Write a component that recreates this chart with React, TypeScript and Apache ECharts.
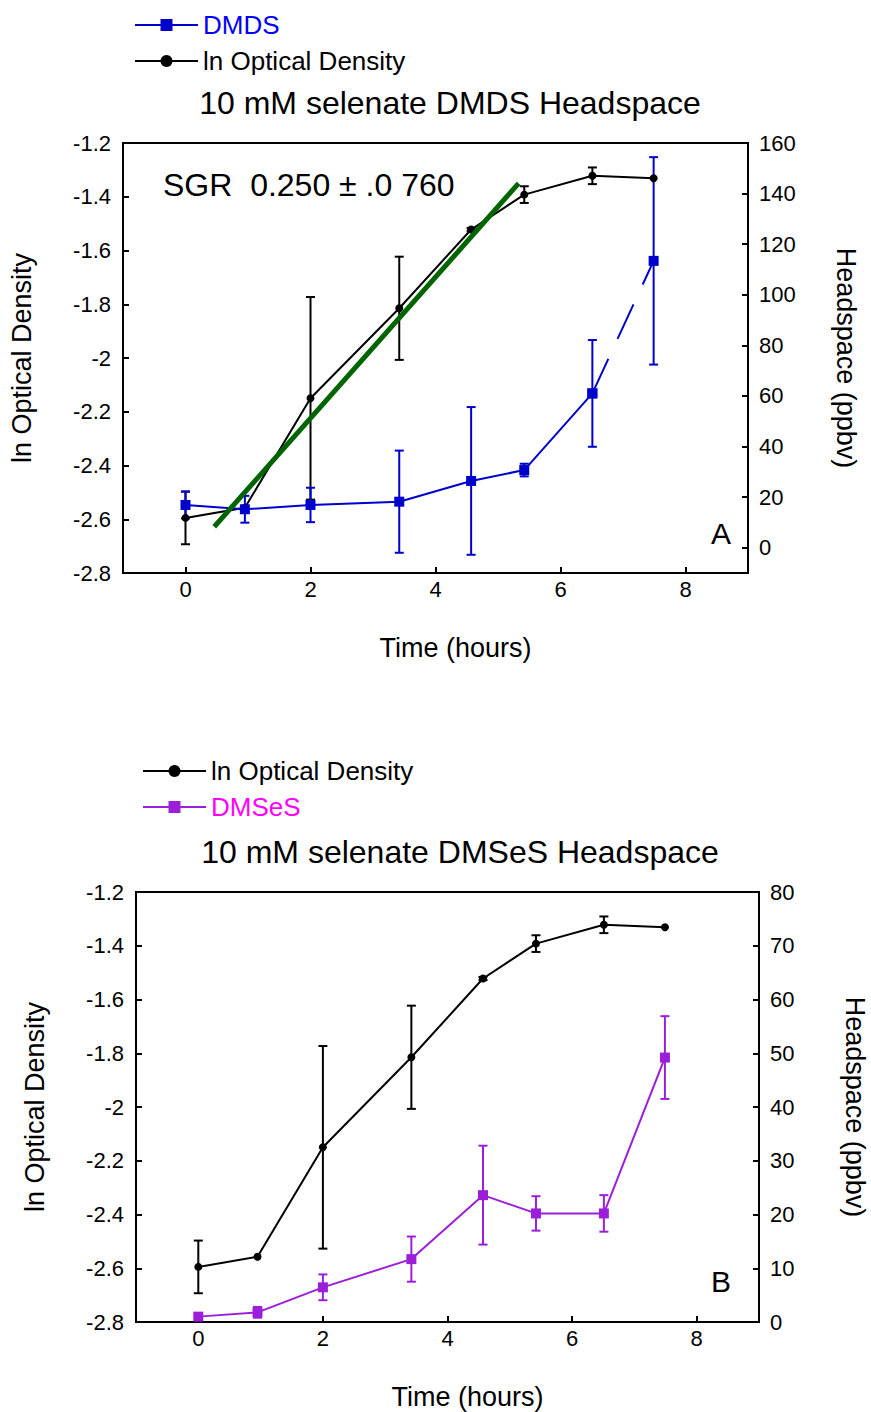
import React, { useEffect, useRef } from "react";
import * as echarts from "echarts";

// ---- data ----
const timeHours = [0, 0.95, 2, 3.42, 4.57, 5.42, 6.51, 7.49];
const lnOD = [-2.595, -2.557, -2.15, -1.815, -1.522, -1.392, -1.322, -1.331];
const lnODErr = [0.098, 0, 0.377, 0.192, 0.006, 0.031, 0.031, 0];
const dmds = [16.9, 15.2, 16.9, 18.2, 26.4, 30.7, 61, 113.4];
const dmdsErr = [5.3, 5.3, 6.8, 20.2, 29.2, 2.5, 21.1, 41];
const dmses = [1.0, 1.8, 6.45, 11.7, 23.6, 20.2, 20.2, 49.2];
const dmsesErr = [0, 1.0, 2.4, 4.2, 9.2, 3.2, 3.4, 7.7];
const sgrFitX = [0.46, 5.33];
const sgrFitY = [-2.628, -1.35];
const xTicks = [0, 2, 4, 6, 8];
const headspaceTicksA = [0, 20, 40, 60, 80, 100, 120, 140, 160];

const FONT = "Liberation Sans";
const BLUE = "#0000CC";
const PURPLE = "#9B1FD8";

const pairs = (xs: number[], ys: number[]) => xs.map((x, i) => [x, ys[i]]);
const errData = (xs: number[], ys: number[], es: number[]) =>
  xs
    .map((x, i) => [x, ys[i] - es[i], ys[i] + es[i]])
    .filter((_, i) => es[i] > 0);

function errSeries(
  data: number[][],
  color: string,
  xAxisIndex: number,
  yAxisIndex: number,
  name: string
) {
  return {
    type: "custom",
    name,
    xAxisIndex,
    yAxisIndex,
    data,
    encode: { x: 0, y: [1, 2] },
    z: 3,
    renderItem: (params: any, api: any) => {
      const x = api.value(0);
      const lo = api.coord([x, api.value(1)]);
      const hi = api.coord([x, api.value(2)]);
      const hw = 4.5;
      const st = { stroke: color, lineWidth: 2 };
      return {
        type: "group",
        children: [
          { type: "line", shape: { x1: lo[0], y1: lo[1], x2: hi[0], y2: hi[1] }, style: st },
          { type: "line", shape: { x1: lo[0] - hw, y1: lo[1], x2: lo[0] + hw, y2: lo[1] }, style: st },
          { type: "line", shape: { x1: hi[0] - hw, y1: hi[1], x2: hi[0] + hw, y2: hi[1] }, style: st },
        ],
      };
    },
  };
}

const axisCommon = {
  axisLine: { show: true, onZero: false, lineStyle: { color: "#000", width: 2 } },
  axisTick: { show: true, inside: true, length: 6, lineStyle: { color: "#000", width: 2 } },
  splitLine: { show: false },
  axisLabel: { color: "#000", fontSize: 22, fontFamily: FONT },
};

const nameStyle = { color: "#000", fontSize: 27, fontFamily: FONT };

function xAxis(gridIndex: number) {
  return {
    type: "value",
    gridIndex,
    min: -1,
    max: 9,
    ...axisCommon,
    axisTick: { ...axisCommon.axisTick, customValues: xTicks },
    axisLabel: { ...axisCommon.axisLabel, margin: 5, customValues: xTicks },
    name: "Time (hours)",
    nameLocation: "middle",
    nameGap: 61,
    nameTextStyle: { ...nameStyle, padding: [0, 0, 0, 40] },
  };
}

function leftAxis(gridIndex: number) {
  return {
    type: "value",
    gridIndex,
    position: "left",
    min: -2.8,
    max: -1.2,
    interval: 0.2,
    ...axisCommon,
    axisLabel: { ...axisCommon.axisLabel, margin: 12 },
    name: "ln Optical Density",
    nameLocation: "middle",
    nameGap: 88,
    nameTextStyle: nameStyle,
  };
}

function legend(left: number, top: number, data: any[]) {
  return {
    orient: "vertical",
    left,
    top,
    padding: 0,
    itemWidth: 63,
    itemHeight: 15,
    itemGap: 10,
    textStyle: { fontSize: 26, fontFamily: FONT, color: "#000" },
    data,
  };
}

export default function App() {
  const ref = useRef<HTMLDivElement>(null);
  useEffect(() => {
    document.body.style.margin = "0";
    document.body.style.overflow = "hidden";
    if (!ref.current) return;
    const chart = echarts.init(ref.current, undefined, { renderer: "svg" });
    const option: any = {
      animation: false,
      backgroundColor: "#fff",
      textStyle: { fontFamily: FONT },
      grid: [
        { left: 123, top: 143, width: 625, height: 430, show: true, borderColor: "#000", borderWidth: 2, containLabel: false, outerBoundsMode: "none" },
        { left: 136, top: 892, width: 623, height: 430, show: true, borderColor: "#000", borderWidth: 2, containLabel: false, outerBoundsMode: "none" },
      ],
      legend: [
        legend(134, 12, [
          { name: "DMDS", textStyle: { color: "#0000FF" } },
          { name: "ln Optical Density", textStyle: { color: "#000" } },
        ]),
        legend(142, 758, [
          { name: "ln Optical Density", textStyle: { color: "#000" } },
          { name: "DMSeS", textStyle: { color: "#FF00FF" } },
        ]),
      ],
      xAxis: [xAxis(0), xAxis(1)],
      yAxis: [
        leftAxis(0),
        {
          type: "value",
          gridIndex: 0,
          position: "right",
          min: -10,
          max: 160,
          ...axisCommon,
          axisTick: { ...axisCommon.axisTick, customValues: headspaceTicksA },
          axisLabel: { ...axisCommon.axisLabel, margin: 11, customValues: headspaceTicksA },
          name: "Headspace (ppbv)",
          nameLocation: "middle",
          nameRotate: -90,
          nameGap: 84,
          nameTextStyle: nameStyle,
        },
        leftAxis(1),
        {
          type: "value",
          gridIndex: 1,
          position: "right",
          min: 0,
          max: 80,
          interval: 10,
          ...axisCommon,
          axisLabel: { ...axisCommon.axisLabel, margin: 11 },
          name: "Headspace (ppbv)",
          nameLocation: "middle",
          nameRotate: -90,
          nameGap: 82,
          nameTextStyle: nameStyle,
        },
      ],
      series: [
        // ---- panel A ----
        errSeries(errData(timeHours, lnOD, lnODErr), "#000", 0, 0, "odErrA"),
        {
          type: "line",
          name: "ln Optical Density",
          xAxisIndex: 0,
          yAxisIndex: 0,
          data: pairs(timeHours, lnOD),
          symbol: "circle",
          symbolSize: 8,
          itemStyle: { color: "#000" },
          lineStyle: { color: "#000", width: 2 },
          z: 4,
        },
        errSeries(errData(timeHours, dmds, dmdsErr), BLUE, 0, 1, "dmdsErr"),
        {
          type: "line",
          name: "DMDS",
          xAxisIndex: 0,
          yAxisIndex: 1,
          data: pairs(timeHours, dmds).slice(0, 7),
          symbol: "rect",
          symbolSize: 10,
          itemStyle: { color: BLUE },
          lineStyle: { color: BLUE, width: 2 },
          z: 5,
        },
        {
          type: "line",
          name: "DMDS dashed",
          xAxisIndex: 0,
          yAxisIndex: 1,
          data: pairs(timeHours, dmds).slice(6),
          symbol: "rect",
          symbolSize: 10,
          itemStyle: { color: BLUE },
          lineStyle: { color: BLUE, width: 2, type: [38, 22] },
          z: 5,
        },
        {
          type: "line",
          name: "SGR fit",
          xAxisIndex: 0,
          yAxisIndex: 0,
          data: pairs(sgrFitX, sgrFitY),
          symbol: "none",
          lineStyle: { color: "#006400", width: 5 },
          z: 6,
        },
        // ---- panel B ----
        errSeries(errData(timeHours, lnOD, lnODErr), "#000", 1, 2, "odErrB"),
        {
          type: "line",
          name: "ln Optical Density",
          xAxisIndex: 1,
          yAxisIndex: 2,
          data: pairs(timeHours, lnOD),
          symbol: "circle",
          symbolSize: 8,
          itemStyle: { color: "#000" },
          lineStyle: { color: "#000", width: 2 },
          z: 4,
        },
        errSeries(errData(timeHours, dmses, dmsesErr), PURPLE, 1, 3, "dmsesErr"),
        {
          type: "line",
          name: "DMSeS",
          xAxisIndex: 1,
          yAxisIndex: 3,
          data: pairs(timeHours, dmses),
          symbol: "rect",
          symbolSize: 10,
          itemStyle: { color: PURPLE },
          lineStyle: { color: PURPLE, width: 2 },
          z: 5,
        },
      ],
      graphic: [
        {
          type: "text",
          x: 450,
          y: 103,
          style: { text: "10 mM selenate DMDS Headspace", fontSize: 32, fontFamily: FONT, fill: "#000", textAlign: "center", textVerticalAlign: "middle" },
        },
        {
          type: "text",
          x: 460,
          y: 852,
          style: { text: "10 mM selenate DMSeS Headspace", fontSize: 32, fontFamily: FONT, fill: "#000", textAlign: "center", textVerticalAlign: "middle" },
        },
        {
          type: "text",
          x: 163,
          y: 185,
          style: { text: "SGR  0.250 \u00B1 .0 760", fontSize: 32, fontFamily: FONT, fill: "#000", textAlign: "left", textVerticalAlign: "middle" },
        },
        {
          type: "text",
          x: 721,
          y: 533,
          style: { text: "A", fontSize: 30, fontFamily: FONT, fill: "#000", textAlign: "center", textVerticalAlign: "middle" },
        },
        {
          type: "text",
          x: 721,
          y: 1281,
          style: { text: "B", fontSize: 30, fontFamily: FONT, fill: "#000", textAlign: "center", textVerticalAlign: "middle" },
        },
      ],
    };
    chart.setOption(option);
    return () => chart.dispose();
  }, []);
  return <div ref={ref} style={{ width: 871, height: 1412 }} />;
}
